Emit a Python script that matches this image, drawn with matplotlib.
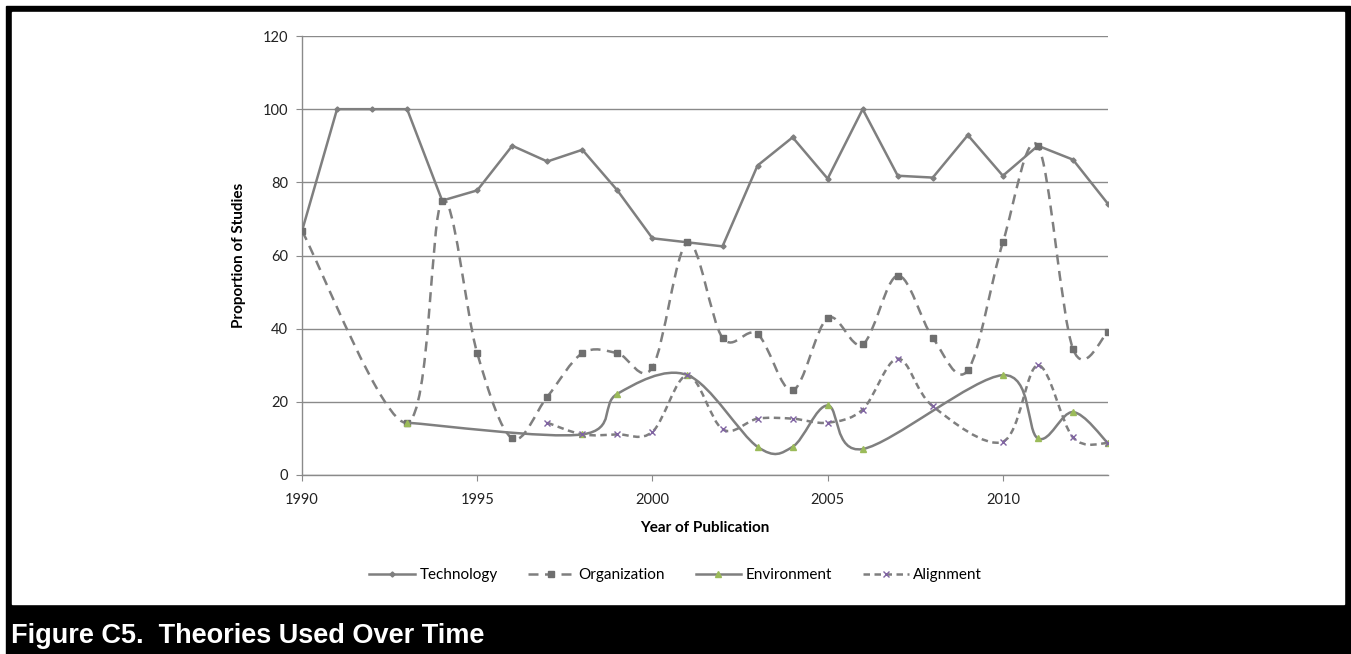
import numpy as np
import matplotlib
matplotlib.use("Agg")
from matplotlib import pyplot as plt
from matplotlib.path import Path
from matplotlib.patches import PathPatch, Rectangle
from matplotlib.lines import Line2D

# Years on the x axis
years = list(range(1990, 2014))
nan = np.nan

# Series values (nan = no point that year)
technology = [66.7, 100, 100, 100, 75, 77.8, 90, 85.7, 88.9, 77.8, 64.7, 63.6,
              62.5, 84.6, 92.3, 81, 100, 81.8, 81.3, 92.9, 81.8, 90, 86.2, 74.1]
organization = [66.7, nan, nan, 14.3, 75, 33.3, 10, 21.4, 33.3, 33.3, 29.4, 63.6,
                37.5, 38.5, 23.1, 42.9, 35.7, 54.5, 37.5, 28.6, 63.6, 90, 34.5, 39.1]
environment = [nan, nan, nan, 14.3, nan, nan, nan, nan, 11.1, 22.2, nan, 27.3,
               nan, 7.7, 7.7, 19, 7.1, nan, nan, nan, 27.3, 10, 17.2, 8.7]
alignment = [nan, nan, nan, nan, nan, nan, nan, 14.3, 11.1, 11.1, 11.8, 27.3,
             12.5, 15.4, 15.4, 14.3, 17.9, 31.8, 18.8, nan, 9.1, 30, 10.3, 8.7]

labels = ["Technology", "Organization", "Environment", "Alignment"]

W, H = 1351, 654
fig = plt.figure(figsize=(W / 100, H / 100), dpi=100)
fig.patch.set_facecolor("white")

# black frame and title bar
fig.patches.append(Rectangle((6 / W, 0), 1344 / W, 1 - 6 / H,
                             transform=fig.transFigure, color="black", zorder=-10))
fig.patches.append(Rectangle((12 / W, 1 - 604 / H), 1332 / W, 592 / H,
                             transform=fig.transFigure, color="white", zorder=-9))
fig.text(11 / W, 1 - 643 / H, "Figure C5.  Theories Used Over Time",
         color="white", fontsize=19.5, fontweight="bold",
         family="Liberation Sans", va="baseline", ha="left")

ax = fig.add_axes([302 / W, 1 - 475 / H, 806 / W, 439 / H])
ax.set_facecolor("none")
ax.set_zorder(2)

line_c = "#7f7f7f"
grid_c = "#8a8a8a"


def smooth_path(xs, ys):
    # Bezier curve through the points, like the spreadsheet "smoothed line"
    x = np.asarray(xs, float)
    y = np.asarray(ys, float)
    ok = ~np.isnan(y)
    x, y = x[ok], y[ok]
    pts = np.column_stack([x, y])
    n = len(pts)
    verts = [pts[0]]
    codes = [Path.MOVETO]
    for i in range(n - 1):
        p0 = pts[i - 1] if i > 0 else pts[i]
        p1 = pts[i]
        p2 = pts[i + 1]
        p3 = pts[i + 2] if i + 2 < n else pts[i + 1]
        c1 = p1 + (p2 - p0) / 6.0
        c2 = p2 - (p3 - p1) / 6.0
        verts += [c1, c2, p2]
        codes += [Path.CURVE4] * 3
    return Path(verts, codes)


# Technology: straight segments
ax.plot(years, technology, color=line_c, lw=1.8, marker="D", markersize=2.6,
        zorder=3)

# Organization: dashed smoothed
ax.add_patch(PathPatch(smooth_path(years, organization), fill=False,
                       edgecolor=line_c, lw=1.8, linestyle=(0, (4, 2.6)),
                       zorder=4))
ax.plot(years, organization, ls="none", marker="s", markersize=4.3,
        color="#6f6f6f", zorder=4)

# Environment: solid smoothed
ax.add_patch(PathPatch(smooth_path(years, environment), fill=False,
                       edgecolor=line_c, lw=1.8, zorder=5))
ax.plot(years, environment, ls="none", marker="^", markersize=4,
        color="#9bbb59", zorder=5)

# Alignment: dashed smoothed
ax.add_patch(PathPatch(smooth_path(years, alignment), fill=False,
                       edgecolor=line_c, lw=1.8, linestyle=(0, (2.6, 1.8)),
                       zorder=6))
ax.plot(years, alignment, ls="none", marker="x", markersize=4.5,
        markeredgewidth=1.0, color="#8064a2", zorder=6)

# Axes formatting
ax.set_xlim(1990, 2013)
ax.set_ylim(0, 120)
ax.set_xticks([1990, 1995, 2000, 2005, 2010])
ax.set_yticks(range(0, 121, 20))
ax.yaxis.grid(True, color=grid_c, lw=1.0)
ax.set_axisbelow(True)
for s in ["top", "right"]:
    ax.spines[s].set_visible(False)
for s in ["left", "bottom"]:
    ax.spines[s].set_color(grid_c)
    ax.spines[s].set_linewidth(1.0)
ax.tick_params(axis="both", direction="out", length=4, color=grid_c,
               labelsize=10.5, labelcolor="#222222")
ax.tick_params(axis="x", pad=9)
ax.tick_params(axis="y", pad=6)
for t in ax.get_xticklabels() + ax.get_yticklabels():
    t.set_family("Lato")

ax.set_xlabel("Year of Publication", fontsize=11, fontweight="bold",
              family="Lato", labelpad=10)
ax.set_ylabel("Proportion of Studies", fontsize=11, fontweight="bold",
              family="Lato", labelpad=12)

handles = [
    Line2D([], [], color=line_c, lw=1.8, marker="D", markersize=2.6),
    Line2D([], [], color=line_c, lw=1.8, ls=(0, (4, 2.6)), marker="s",
           markersize=4.3, markerfacecolor="#6f6f6f", markeredgecolor="#6f6f6f"),
    Line2D([], [], color=line_c, lw=1.8, marker="^", markersize=4,
           markerfacecolor="#9bbb59", markeredgecolor="#9bbb59"),
    Line2D([], [], color=line_c, lw=1.8, ls=(0, (2.6, 1.8)), marker="x",
           markersize=4.5, markeredgecolor="#8064a2"),
]
fig.legend(handles, labels, loc="center", bbox_to_anchor=(0.5, 1 - 575 / H),
           ncol=4, frameon=False, handlelength=3.0, handletextpad=0.3,
           columnspacing=2.0, prop={"family": "Lato", "size": 11})

fig.savefig("out.png", dpi=100, facecolor="white")
